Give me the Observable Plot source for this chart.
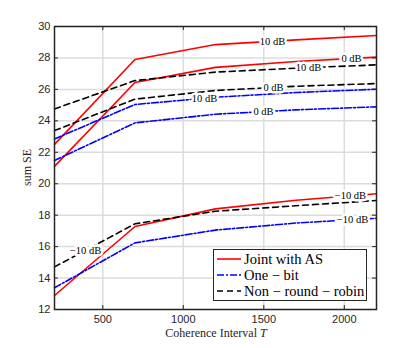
<!DOCTYPE html>
<html><head><meta charset="utf-8">
<script src="https://cdn.jsdelivr.net/npm/d3@7"></script>
<script src="https://cdn.jsdelivr.net/npm/@observablehq/plot@0.6"></script>
<style>
body{margin:0;background:#fff;}
#wrap{position:relative;width:415px;height:348px;}
#legend{position:absolute;left:213px;top:249px;width:152px;height:50px;border:1.5px solid #262626;background:#fff;
  font-family:'Liberation Serif','Times New Roman',serif;font-size:14.5px;color:#000;padding:0;box-sizing:content-box;white-space:nowrap;}
#legend .row{display:flex;align-items:center;height:16px;}
#legend .row:first-child{margin-top:1px;}
#legend svg{margin-left:3px;margin-right:3px;flex:none;}
</style></head><body><div id="wrap"><div id="legend"></div></div>
<script>
// Coherence interval T (x)
const T = [200, 700, 1200, 1700, 2200];
// sum SE values
const jointAS_10dB  = [22.5, 27.9, 28.85, 29.15, 29.43];
const jointAS_0dB   = [21.1, 26.44, 27.4, 27.77, 28.05];
const jointAS_m10dB = [12.89, 17.28, 18.4, 18.95, 19.36];
const oneBit_10dB   = [22.85, 25.04, 25.5, 25.8, 26.01];
const oneBit_0dB    = [21.48, 23.87, 24.42, 24.7, 24.89];
const oneBit_m10dB  = [13.38, 16.24, 17.05, 17.5, 17.8];
const nrr_10dB      = [24.76, 26.56, 27.1, 27.35, 27.56];
const nrr_0dB       = [23.38, 25.38, 25.93, 26.2, 26.37];
const nrr_m10dB     = [14.71, 17.45, 18.25, 18.6, 18.93];

const methods = ["Joint with AS", "One \u2212 bit", "Non \u2212 round \u2212 robin"];
const colors = ["#ff0000", "#0000ff", "#000000"];
const dashes = [null, "7,2,2,2", "6,4"];

const snrLabels = ["10 dB", "0 dB", "\u221210 dB"];
// T positions where the inline SNR labels sit
const labelT = {
  "Joint with AS": [1554, 2045, 2038],
  "One \u2212 bit": [1132, 1498, 2051],
  "Non \u2212 round \u2212 robin": [1778, 1560, 393]
};
const seriesValues = {
  "Joint with AS": [jointAS_10dB, jointAS_0dB, jointAS_m10dB],
  "One \u2212 bit": [oneBit_10dB, oneBit_0dB, oneBit_m10dB],
  "Non \u2212 round \u2212 robin": [nrr_10dB, nrr_0dB, nrr_m10dB]
};

const xTicks = [500, 1000, 1500, 2000];
const yTicks = [12, 14, 16, 18, 20, 22, 24, 26, 28, 30];

const SERIF = "'Liberation Serif', 'Times New Roman', serif";
const W = 415, H = 348, mT = 26, mB = 39, mL = 54, mR = 39;
const innerH = H - mT - mB, innerW = W - mL - mR;

const marks = [
  Plot.ruleX(xTicks, {x: d => d, stroke: "#dcdcdc", strokeWidth: 1.5}),
  Plot.ruleY(yTicks, {y: d => d, stroke: "#dcdcdc", strokeWidth: 1.5})
];
const labelRows = [];
methods.forEach((m, mi) => {
  seriesValues[m].forEach((vals, si) => {
    const rows = T.map((t, i) => ({T: t, v: vals[i]}));
    marks.push(Plot.line(rows, {x: "T", y: "v", stroke: colors[mi], strokeWidth: 1.6,
      strokeDasharray: dashes[mi] ?? undefined}));
    const lt = labelT[m][si];
    labelRows.push({T: lt, v: d3.scaleLinear(T, vals)(lt), text: snrLabels[si]});
  });
});
marks.push(Plot.text(labelRows, {x: "T", y: "v", text: "text", fill: "#000", stroke: "white",
  strokeWidth: 5, paintOrder: "stroke", fontFamily: SERIF, fontSize: 10.5}));
// inward ticks on all four sides
marks.push(
  Plot.tickX(xTicks, {x: d => d, insetTop: innerH - 4, stroke: "#262626"}),
  Plot.tickX(xTicks, {x: d => d, insetBottom: innerH - 4, stroke: "#262626"}),
  Plot.tickY(yTicks, {y: d => d, insetRight: innerW - 4, stroke: "#262626"}),
  Plot.tickY(yTicks, {y: d => d, insetLeft: innerW - 4, stroke: "#262626"}),
  Plot.axisX(xTicks, {tickSize: 0, tickPadding: 6, fontSize: 11, fill: "#262626", label: null, tickFormat: d => String(d)}),
  Plot.axisY(yTicks, {tickSize: 0, tickPadding: 4, fontSize: 11, fill: "#262626", label: null, tickFormat: d => String(d)}),
  Plot.frame({stroke: "#262626", strokeWidth: 1.5})
);

const chart = Plot.plot({
  width: W, height: H, marginTop: mT, marginBottom: mB, marginLeft: mL, marginRight: mR,
  style: {fontFamily: "'Liberation Sans', Arial, sans-serif", background: "white"},
  x: {domain: [200, 2200]},
  y: {domain: [12, 30]},
  marks
});
// axis titles (serif, LaTeX-like)
const svg = d3.select(chart);
svg.append("text").attr("x", mL + innerW / 2 + 1).attr("y", 337).attr("text-anchor", "middle")
  .style("font-family", SERIF).attr("font-size", 12).attr("fill", "#262626")
  .html('Coherence Interval <tspan font-style="italic">T</tspan>');
svg.append("text").attr("transform", `translate(31,${mT + innerH / 2}) rotate(-90)`).attr("text-anchor", "middle")
  .style("font-family", SERIF).attr("font-size", 12).attr("fill", "#262626")
  .text("sum SE");
document.getElementById("wrap").prepend(chart);

const leg = document.getElementById("legend");
methods.forEach((m, i) => {
  const row = document.createElement("div");
  row.className = "row";
  row.innerHTML = `<svg width="24" height="6"><line x1="0" y1="3" x2="24" y2="3" stroke="${colors[i]}" stroke-width="1.6" ${dashes[i] ? `stroke-dasharray="${dashes[i]}"` : ""}/></svg><span>${m}</span>`;
  leg.appendChild(row);
});
</script></body></html>
